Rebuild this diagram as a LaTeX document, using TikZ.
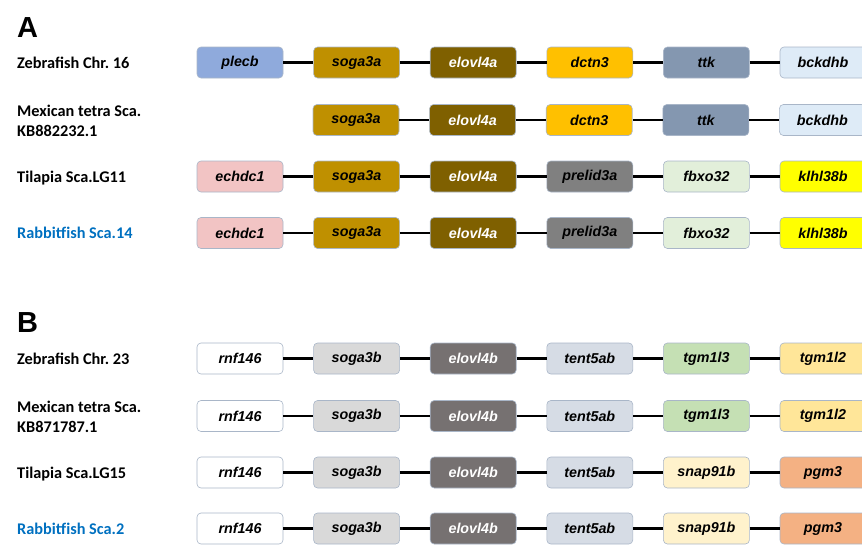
\documentclass[tikz,border=0pt]{standalone}
\usepackage{fontspec}
\setmainfont{Liberation Sans}
\newfontfamily\labelfont{Carlito}
\usetikzlibrary{positioning}
\frenchspacing

\definecolor{boxline}{HTML}{A9B6C8}
\definecolor{rabbitblue}{HTML}{0070C0}
\definecolor{plecbcol}{HTML}{8FAADC}
\definecolor{sogaacol}{HTML}{BF9000}
\definecolor{elovlacol}{HTML}{7F6000}
\definecolor{dctncol}{HTML}{FFC000}
\definecolor{ttkcol}{HTML}{8497B0}
\definecolor{bckdhbcol}{HTML}{DEEBF7}
\definecolor{echdccol}{HTML}{F2C4C4}
\definecolor{prelidcol}{HTML}{808080}
\definecolor{fbxocol}{HTML}{E2EFDA}
\definecolor{klhlcol}{HTML}{FFFF00}
\definecolor{sogabcol}{HTML}{D9D9D9}
\definecolor{elovlbcol}{HTML}{767171}
\definecolor{tentcol}{HTML}{D6DCE5}
\definecolor{tgmthreecol}{HTML}{C5E0B4}
\definecolor{tgmtwocol}{HTML}{FFE699}
\definecolor{snapcol}{HTML}{FFF2CC}
\definecolor{pgmcol}{HTML}{F4B183}

\begin{document}
\begin{tikzpicture}[
        node distance=30pt,
        gene/.style={rectangle, rounded corners=4pt, draw=boxline, line width=0.6pt, minimum width=86pt, minimum height=31pt, inner sep=0pt, font=\fontsize{14.3}{16}\selectfont\bfseries\itshape},
        darkgene/.style={gene, text=white},
        species/.style={anchor=west, align=left, inner sep=0pt, text depth=0pt, font=\labelfont\fontsize{16.3}{19.5}\selectfont\bfseries},
        ours/.style={species, text=rabbitblue},
        panel/.style={anchor=north west, inner sep=0pt, font=\fontsize{29}{30}\selectfont\bfseries},
        link/.style={line width=2.4pt, black}
    ]
        \useasboundingbox (0,0) rectangle (862pt,-547pt);

        % Panel A
        \node[panel] (panelA) at (17pt,-17pt) {A};

        % Zebrafish Chr. 16
        \node[species] (zebraA) at (17pt,-62.5pt) {Zebrafish Chr. 16};
        \node[gene, fill=plecbcol] (zplecb) at (240pt,-62.5pt) {plecb};
        \node[gene, fill=sogaacol, right=of zplecb] (zsoga3a) {soga3a};
        \node[darkgene, fill=elovlacol, right=of zsoga3a] (zelovl4a) {elovl4a};
        \node[gene, fill=dctncol, right=of zelovl4a] (zdctn3) {dctn3};
        \node[gene, fill=ttkcol, right=of zdctn3] (zttk) {ttk};
        \node[gene, fill=bckdhbcol, right=of zttk] (zbckdhb) {bckdhb};

        % Mexican tetra Sca. KB882232.1
        \node[species] (tetraA) at (17pt,-121pt) {Mexican tetra Sca.\\KB882232.1};
        \node[gene, fill=sogaacol] (msoga3a) at (356pt,-120pt) {soga3a};
        \node[darkgene, fill=elovlacol, right=of msoga3a] (melovl4a) {elovl4a};
        \node[gene, fill=dctncol, right=of melovl4a] (mdctn3) {dctn3};
        \node[gene, fill=ttkcol, right=of mdctn3] (mttk) {ttk};
        \node[gene, fill=bckdhbcol, right=of mttk] (mbckdhb) {bckdhb};

        % Tilapia Sca.LG11
        \node[species] (tilapiaA) at (17pt,-176.5pt) {Tilapia Sca.LG11};
        \node[gene, fill=echdccol] (techdc1) at (240pt,-176.5pt) {echdc1};
        \node[gene, fill=sogaacol, right=of techdc1] (tsoga3a) {soga3a};
        \node[darkgene, fill=elovlacol, right=of tsoga3a] (telovl4a) {elovl4a};
        \node[gene, fill=prelidcol, right=of telovl4a] (tprelid3a) {prelid3a};
        \node[gene, fill=fbxocol, right=of tprelid3a] (tfbxo32) {fbxo32};
        \node[gene, fill=klhlcol, right=of tfbxo32] (tklhl38b) {klhl38b};

        % Rabbitfish Sca.14
        \node[ours] (rabbitA) at (17pt,-233pt) {Rabbitfish Sca.14};
        \node[gene, fill=echdccol] (rechdc1) at (240pt,-233pt) {echdc1};
        \node[gene, fill=sogaacol, right=of rechdc1] (rsoga3a) {soga3a};
        \node[darkgene, fill=elovlacol, right=of rsoga3a] (relovl4a) {elovl4a};
        \node[gene, fill=prelidcol, right=of relovl4a] (rprelid3a) {prelid3a};
        \node[gene, fill=fbxocol, right=of rprelid3a] (rfbxo32) {fbxo32};
        \node[gene, fill=klhlcol, right=of rfbxo32] (rklhl38b) {klhl38b};

        % Links A
        \draw[link] (zplecb) -- (zsoga3a) (zsoga3a) -- (zelovl4a) (zelovl4a) -- (zdctn3) (zdctn3) -- (zttk) (zttk) -- (zbckdhb);
        \draw[link] (msoga3a) -- (melovl4a) (melovl4a) -- (mdctn3) (mdctn3) -- (mttk) (mttk) -- (mbckdhb);
        \draw[link] (techdc1) -- (tsoga3a) (tsoga3a) -- (telovl4a) (telovl4a) -- (tprelid3a) (tprelid3a) -- (tfbxo32) (tfbxo32) -- (tklhl38b);
        \draw[link] (rechdc1) -- (rsoga3a) (rsoga3a) -- (relovl4a) (relovl4a) -- (rprelid3a) (rprelid3a) -- (rfbxo32) (rfbxo32) -- (rklhl38b);

        % Panel B
        \node[panel] (panelB) at (17pt,-312pt) {B};

        % Zebrafish Chr. 23
        \node[species] (zebraB) at (17pt,-358.5pt) {Zebrafish Chr. 23};
        \node[gene, fill=white] (zrnf146) at (240pt,-358.5pt) {rnf146};
        \node[gene, fill=sogabcol, right=of zrnf146] (zsoga3b) {soga3b};
        \node[darkgene, fill=elovlbcol, right=of zsoga3b] (zelovl4b) {elovl4b};
        \node[gene, fill=tentcol, right=of zelovl4b] (ztent5ab) {tent5ab};
        \node[gene, fill=tgmthreecol, right=of ztent5ab] (ztgm1l3) {tgm1l3};
        \node[gene, fill=tgmtwocol, right=of ztgm1l3] (ztgm1l2) {tgm1l2};

        % Mexican tetra Sca. KB871787.1
        \node[species] (tetraB) at (17pt,-417pt) {Mexican tetra Sca.\\KB871787.1};
        \node[gene, fill=white] (mrnf146) at (240pt,-416pt) {rnf146};
        \node[gene, fill=sogabcol, right=of mrnf146] (msoga3b) {soga3b};
        \node[darkgene, fill=elovlbcol, right=of msoga3b] (melovl4b) {elovl4b};
        \node[gene, fill=tentcol, right=of melovl4b] (mtent5ab) {tent5ab};
        \node[gene, fill=tgmthreecol, right=of mtent5ab] (mtgm1l3) {tgm1l3};
        \node[gene, fill=tgmtwocol, right=of mtgm1l3] (mtgm1l2) {tgm1l2};

        % Tilapia Sca.LG15
        \node[species] (tilapiaB) at (17pt,-472.5pt) {Tilapia Sca.LG15};
        \node[gene, fill=white] (trnf146) at (240pt,-472.5pt) {rnf146};
        \node[gene, fill=sogabcol, right=of trnf146] (tsoga3b) {soga3b};
        \node[darkgene, fill=elovlbcol, right=of tsoga3b] (telovl4b) {elovl4b};
        \node[gene, fill=tentcol, right=of telovl4b] (ttent5ab) {tent5ab};
        \node[gene, fill=snapcol, right=of ttent5ab] (tsnap91b) {snap91b};
        \node[gene, fill=pgmcol, right=of tsnap91b] (tpgm3) {pgm3};

        % Rabbitfish Sca.2
        \node[ours] (rabbitB) at (17pt,-528.5pt) {Rabbitfish Sca.2};
        \node[gene, fill=white] (rrnf146) at (240pt,-528.5pt) {rnf146};
        \node[gene, fill=sogabcol, right=of rrnf146] (rsoga3b) {soga3b};
        \node[darkgene, fill=elovlbcol, right=of rsoga3b] (relovl4b) {elovl4b};
        \node[gene, fill=tentcol, right=of relovl4b] (rtent5ab) {tent5ab};
        \node[gene, fill=snapcol, right=of rtent5ab] (rsnap91b) {snap91b};
        \node[gene, fill=pgmcol, right=of rsnap91b] (rpgm3) {pgm3};

        % Links B
        \draw[link] (zrnf146) -- (zsoga3b) (zsoga3b) -- (zelovl4b) (zelovl4b) -- (ztent5ab) (ztent5ab) -- (ztgm1l3) (ztgm1l3) -- (ztgm1l2);
        \draw[link] (mrnf146) -- (msoga3b) (msoga3b) -- (melovl4b) (melovl4b) -- (mtent5ab) (mtent5ab) -- (mtgm1l3) (mtgm1l3) -- (mtgm1l2);
        \draw[link] (trnf146) -- (tsoga3b) (tsoga3b) -- (telovl4b) (telovl4b) -- (ttent5ab) (ttent5ab) -- (tsnap91b) (tsnap91b) -- (tpgm3);
        \draw[link] (rrnf146) -- (rsoga3b) (rsoga3b) -- (relovl4b) (relovl4b) -- (rtent5ab) (rtent5ab) -- (rsnap91b) (rsnap91b) -- (rpgm3);
    \end{tikzpicture}
\end{document}
